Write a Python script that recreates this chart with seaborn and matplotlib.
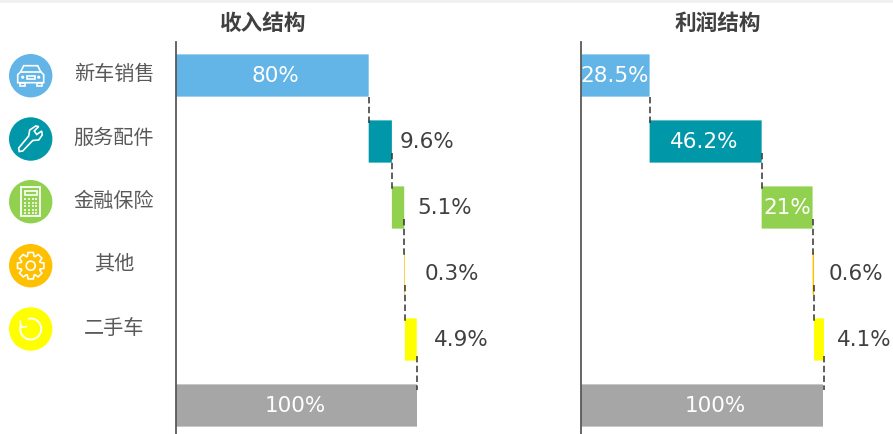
import numpy as np
import pandas as pd
import seaborn as sns
import matplotlib
matplotlib.use("Agg")
import matplotlib.pyplot as plt
from matplotlib.patches import Circle, Rectangle, Arc, Polygon

sns.set_theme(style="white")
plt.rcParams["font.family"] = ["Noto Sans CJK SC", "DejaVu Sans"]

# Chart data
categories = ["新车销售", "服务配件", "金融保险", "其他", "二手车", "合计"]
colors = ["#62B5E6", "#0097A9", "#92D14F", "#FFC000", "#FFFF00", "#A6A6A6"]
revenue_title = "收入结构"
profit_title = "利润结构"
revenue_share = [80, 9.6, 5.1, 0.3, 4.9, 100]
profit_share = [28.5, 46.2, 21, 0.6, 4.1, 100]
revenue_labels = ["80%", "9.6%", "5.1%", "0.3%", "4.9%", "100%"]
profit_labels = ["28.5%", "46.2%", "21%", "0.6%", "4.1%", "100%"]

W, H = 893, 434
fig = plt.figure(figsize=(W / 100, H / 100), dpi=100, facecolor="white")


def waterfall(ax, shares, labels, gaps, inner_shift, scale):
    """Draw one floating-bar column with its connectors and value labels."""
    steps = np.array(shares[:-1], dtype=float)
    starts = np.concatenate([[0], np.cumsum(steps)[:-1], [0]])
    df = pd.DataFrame({"category": categories, "share": shares, "start": starts})
    sns.barplot(data=df, y="category", x="share", left=df["start"].values,
                width=0.64, color=colors[0], saturation=1, ax=ax, zorder=2)
    for patch, c in zip(ax.patches, colors):
        patch.set_facecolor(c)
        patch.set_edgecolor("none")
        patch.set_snap(False)

    ends = starts + np.array(shares, dtype=float)
    connector_start = [0.32, 0.17, 0.17, 0.17, 0.25]
    for i in range(5):
        ax.plot([ends[i], ends[i]], [i + connector_start[i], i + 0.76], color="#333333", lw=1.1,
                dashes=(4.2, 2.2), zorder=3, solid_capstyle="butt")

    for i, (lab, gap) in enumerate(zip(labels, gaps)):
        if gap is None:
            ax.annotate(lab, (starts[i] + shares[i] / 2, i), xytext=(inner_shift[i] * 0.72, -0.5),
                        textcoords="offset points", color="white", fontsize=15.5,
                        family="DejaVu Sans", ha="center", va="center", zorder=4)
        else:
            ax.annotate(lab, (ends[i], i), xytext=(gap * 0.72, 0), textcoords="offset points",
                        color="#404040", fontsize=15.5, family="DejaVu Sans",
                        ha="left", va="center", zorder=4)

    ax.set_xlim(0, scale)
    ax.set_ylim((434 - 75.5) / 66, -33.5 / 66)
    ax.set_xlabel("")
    ax.set_ylabel("")
    ax.set_xticks([])
    ax.set_yticks([])
    for side in ("top", "right", "bottom"):
        ax.spines[side].set_visible(False)
    ax.spines["left"].set_color("#595959")
    ax.spines["left"].set_linewidth(1.3)
    ax.patch.set_alpha(0)


def panel_axes(x0, x1):
    return fig.add_axes([x0 / W, 0, (x1 - x0) / W, (H - 42) / H])


ax_rev = panel_axes(175.5, 470)
waterfall(ax_rev, revenue_share, revenue_labels, [None, 7.5, 13.5, 19.5, 17, None],
          [3, 0, 0, 0, 0, -1], (470 - 175.5) / 2.415)
ax_prof = panel_axes(580.5, 893)
waterfall(ax_prof, profit_share, profit_labels, [None, None, None, 15, 13, None],
          [0, -1, 0, 0, 0, 14], (893 - 580.5) / 2.425)

# Overlay in pixel coordinates for the header strip, titles and the icon legend
ov = fig.add_axes([0, 0, 1, 1], zorder=-1)
ov.set_xlim(0, W)
ov.set_ylim(H, 0)
ov.axis("off")
ov.add_patch(Rectangle((0, 0), W, 3, fc="#F1F1F1", ec="none"))

top = fig.add_axes([0, 0, 1, 1], zorder=5)
top.set_xlim(0, W)
top.set_ylim(H, 0)
top.axis("off")
top.patch.set_alpha(0)

for x, t in ((263, revenue_title), (718, profit_title)):
    top.text(x, 23.5, t, fontsize=15.6, fontweight="bold", color="#404040", ha="center", va="center")

WHITE = dict(fc="none", ec="white", lw=1.2)


def car(c):
    x, y = c
    verts = [(x - 13, y + 7), (x - 13, y - 1), (x - 10, y - 4), (x - 7, y - 10), (x + 7, y - 10),
             (x + 10, y - 4), (x + 13, y - 1), (x + 13, y + 7), (x - 13, y + 7)]
    top.add_patch(Polygon(verts, closed=True, **WHITE))
    top.plot([x - 10, x + 10], [y - 4, y - 4], color="white", lw=1.2)
    top.add_patch(Rectangle((x - 11, y + 7), 5, 3.5, **WHITE))
    top.add_patch(Rectangle((x + 6, y + 7), 5, 3.5, **WHITE))
    top.add_patch(Circle((x - 8, y + 1.5), 1.6, fc="white", ec="none"))
    top.add_patch(Circle((x + 8, y + 1.5), 1.6, fc="white", ec="none"))
    top.add_patch(Rectangle((x - 4, y), 8, 3, **WHITE))


def wrench(c):
    x, y = c
    verts = [(x - 12, y + 9), (x - 2, y - 3), (x - 1, y - 9), (x + 5, y - 13), (x + 8, y - 12.5),
             (x + 3.5, y - 8), (x + 6, y - 4.5), (x + 11, y - 8), (x + 11.5, y - 4),
             (x + 8, y + 1), (x + 2, y + 1.5), (x - 8, y + 12), (x - 11.5, y + 12.5), (x - 12, y + 9)]
    top.add_patch(Polygon(verts, closed=True, **WHITE))


def calculator(c):
    x, y = c
    top.add_patch(Rectangle((x - 9.5, y - 14.5), 19, 29, fc="none", ec="white", lw=1.3))
    top.add_patch(Rectangle((x - 6, y - 11), 12, 4, **WHITE))
    for row in range(5):
        for col in range(4):
            top.add_patch(Rectangle((x - 6.5 + col * 3.7, y - 3.5 + row * 3.5), 2, 2,
                                    fc="white", ec="none", alpha=0.8))


def gear(c):
    x, y = c
    n = 8
    pts = []
    for k in range(n):
        a = 2 * np.pi * k / n
        w = 0.2
        for r, d in ((10, -1.7 * w), (13.5, -w), (13.5, w), (10, 1.7 * w)):
            pts.append((x + r * np.cos(a + d), y + r * np.sin(a + d)))
    top.add_patch(Polygon(pts, closed=True, **WHITE))
    top.add_patch(Circle((x, y), 4.5, **WHITE))


def refresh(c):
    x, y = c
    top.add_patch(Arc((x, y), 21, 21, theta1=-105, theta2=205, ec="white", lw=1.4))
    top.plot([x - 10.5, x - 10, x - 4], [y - 8, y - 1.5, y - 2.5], color="white", lw=1.2)


legend_y = [75.7, 139, 201.7, 265.7, 329]
label_y = [74, 138, 201, 264, 328]
icons = [car, wrench, calculator, gear, refresh]
for i, (iy, ly, icon) in enumerate(zip(legend_y, label_y, icons)):
    top.add_patch(Circle((30.7, iy), 21.7, fc=colors[i], ec="none"))
    icon((30.7, iy))
    top.text(114, ly, categories[i], fontsize=14.5, color="#595959", ha="center", va="center")

fig.savefig("out.png", dpi=100)
